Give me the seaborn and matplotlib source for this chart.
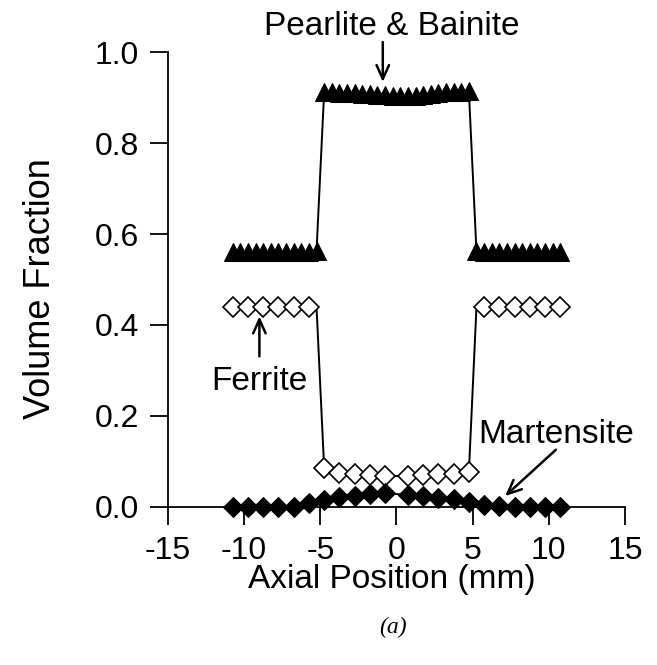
import seaborn as sns
import matplotlib.pyplot as plt
import pandas as pd

# Pearlite & Bainite (filled triangles)
pb_x = [-10.75, -10.25, -9.75, -9.25, -8.75, -8.25, -7.75, -7.25, -6.75, -6.25, -5.75, -5.25,
        -4.75, -4.25, -3.75, -3.25, -2.75, -2.25, -1.75, -1.25, -0.75, -0.25,
        0.25, 0.75, 1.25, 1.75, 2.25, 2.75, 3.25, 3.75, 4.25, 4.75,
        5.25, 5.75, 6.25, 6.75, 7.25, 7.75, 8.25, 8.75, 9.25, 9.75, 10.25, 10.75]
pb_y = [0.56, 0.56, 0.56, 0.56, 0.56, 0.56, 0.56, 0.56, 0.56, 0.56, 0.561, 0.562,
        0.912, 0.911, 0.910, 0.910, 0.909, 0.908, 0.907, 0.906, 0.905, 0.904,
        0.903, 0.903, 0.904, 0.906, 0.908, 0.910, 0.911, 0.912, 0.913, 0.914,
        0.562, 0.561, 0.56, 0.56, 0.56, 0.56, 0.56, 0.56, 0.56, 0.56, 0.56, 0.56]

# Ferrite (open diamonds)
fe_x = [-10.75, -9.75, -8.75, -7.75, -6.75, -5.75, -5.25,
        -4.75, -3.75, -2.75, -1.75, -0.75, 0.75, 1.75, 2.75, 3.75, 4.75,
        5.25, 5.75, 6.75, 7.75, 8.75, 9.75, 10.75]
fe_y = [0.44, 0.44, 0.44, 0.44, 0.44, 0.44, 0.44,
        0.086, 0.074, 0.072, 0.070, 0.068, 0.068, 0.070, 0.072, 0.073, 0.076,
        0.44, 0.44, 0.44, 0.44, 0.44, 0.44, 0.44]
fe_marked = [0, 1, 2, 3, 4, 5, 7, 8, 9, 10, 11, 12, 13, 14, 15, 16, 18, 19, 20, 21, 22, 23]

# Martensite (filled diamonds)
ma_x = [-10.75, -9.75, -8.75, -7.75, -6.75, -5.75, -4.75, -3.75, -2.75, -1.75, -0.75,
        0.75, 1.75, 2.75, 3.75, 4.75, 5.75, 6.75, 7.75, 8.75, 9.75, 10.75]
ma_y = [0.0, 0.0, 0.0, 0.0, 0.0, 0.008, 0.015, 0.021, 0.024, 0.028, 0.031,
        0.026, 0.024, 0.020, 0.017, 0.011, 0.004, 0.002, 0.0, 0.0, 0.0, 0.0]

x_ticks = [-15, -10, -5, 0, 5, 10, 15]
y_ticks = [0.0, 0.2, 0.4, 0.6, 0.8, 1.0]

sns.set_style("ticks")
plt.rcParams["font.family"] = ["Liberation Sans", "DejaVu Sans"]
plt.rcParams["text.color"] = "black"
plt.rcParams["axes.labelcolor"] = "black"

fig = plt.figure(figsize=(6.57, 6.65), dpi=100)
ax = fig.add_axes([0.2557, 0.2376, 0.6956, 0.6842])

pb = pd.DataFrame({"x": pb_x, "y": pb_y})
fe = pd.DataFrame({"x": fe_x, "y": fe_y})
ma = pd.DataFrame({"x": ma_x, "y": ma_y})

sns.lineplot(data=pb, x="x", y="y", ax=ax, color="black", lw=1.4,
             marker="^", markersize=13, markerfacecolor="black",
             markeredgecolor="black", clip_on=False)
sns.lineplot(data=fe, x="x", y="y", ax=ax, color="black", lw=1.4,
             marker="D", markersize=10, markerfacecolor="white",
             markeredgecolor="black", markeredgewidth=1.2,
             markevery=fe_marked, clip_on=False)
sns.lineplot(data=ma, x="x", y="y", ax=ax, color="black", lw=1.4,
             marker="D", markersize=10.5, markerfacecolor="black",
             markeredgecolor="black", clip_on=False)

ax.set_xlim(-15, 15)
ax.set_ylim(0, 1.0)
ax.set_xticks(x_ticks)
ax.set_yticks(y_ticks)
ax.set_xticklabels([str(t) for t in x_ticks])
ax.set_yticklabels(["%.1f" % t for t in y_ticks])
ax.tick_params(direction="out", length=13, width=1.3, labelsize=23, colors="black", pad=8)
for s in ["left", "bottom"]:
    ax.spines[s].set_linewidth(1.3)
    ax.spines[s].set_color("black")
sns.despine(ax=ax)

ax.set_xlabel("Axial Position (mm)", fontsize=24)
ax.set_ylabel("Volume Fraction", fontsize=26)
ax.xaxis.set_label_coords(0.49, -0.125)
ax.yaxis.set_label_coords(-0.24, 0.479)

arrow = dict(arrowstyle="->,head_length=1.0,head_width=0.45", color="black", lw=1.8)
ax.annotate("", xy=(-0.9, 0.928), xytext=(-0.9, 1.028), arrowprops=arrow, annotation_clip=False)
ax.text(-0.3, 1.055, "Pearlite & Bainite", ha="center", va="center", fontsize=24, clip_on=False)
ax.annotate("", xy=(-9.0, 0.425), xytext=(-9.0, 0.325), arrowprops=arrow)
ax.text(-9.0, 0.275, "Ferrite", ha="center", va="center", fontsize=24)
ax.annotate("", xy=(7.0, 0.02), xytext=(10.6, 0.13), arrowprops=arrow)
ax.text(10.5, 0.16, "Martensite", ha="center", va="center", fontsize=24, clip_on=False)

fig.text(0.598, 0.056, "(a)", fontsize=17, style="italic", family="Liberation Serif",
         ha="center", va="center")

fig.savefig("out.png", dpi=100)
